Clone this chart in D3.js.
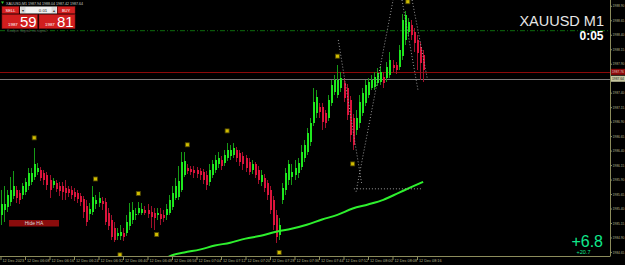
<!DOCTYPE html>
<html>
<head>
<meta charset="utf-8">
<script src="https://cdn.jsdelivr.net/npm/d3@7"></script>
<style>
body { margin: 0; background: #000; }
svg { display: block; font-family: Arial, "Liberation Sans", sans-serif; }
</style>
</head>
<body>
<svg id="chart" width="625" height="265"></svg>
<script>
// XAUUSD M1 heiken ashi, one row per minute from 06:00 : [open, high, low, close]
const candles = [
  [1985.29,1985.72,1985.12,1985.47],[1985.38,1985.78,1985.17,1985.48],[1985.43,1985.72,1985.34,1985.64],
  [1985.52,1985.95,1985.45,1985.72],[1985.62,1986.05,1985.57,1985.78],[1985.72,1985.78,1985.50,1985.59],
  [1985.67,1985.72,1985.47,1985.55],[1985.64,1985.84,1985.57,1985.78],[1985.69,1985.93,1985.64,1985.86],
  [1985.78,1986.10,1985.72,1986.02],[1985.86,1986.10,1985.81,1986.02],[1985.95,1986.45,1985.90,1986.16],
  [1986.03,1986.19,1985.98,1986.10],[1986.07,1986.12,1985.88,1985.93],[1986.02,1986.07,1985.81,1985.90],
  [1985.97,1986.03,1985.72,1985.81],[1985.90,1985.97,1985.59,1985.72],[1985.81,1985.93,1985.76,1985.88],
  [1985.84,1985.90,1985.69,1985.74],[1985.79,1985.86,1985.62,1985.71],[1985.78,1985.86,1985.55,1985.69],
  [1985.76,1985.90,1985.55,1985.67],[1985.74,1985.79,1985.60,1985.67],[1985.72,1985.78,1985.57,1985.64],
  [1985.69,1985.76,1985.53,1985.60],[1985.66,1985.72,1985.50,1985.57],[1985.62,1985.67,1985.45,1985.52],
  [1985.57,1985.62,1985.24,1985.34],[1985.45,1985.55,1985.10,1985.17],[1985.31,1985.50,1985.21,1985.40],
  [1985.34,1985.78,1985.28,1985.60],[1985.48,1985.64,1985.40,1985.55],[1985.50,1985.69,1985.43,1985.59],
  [1985.53,1985.60,1985.38,1985.47],[1985.52,1985.59,1985.12,1985.17],[1985.33,1985.41,1985.03,1985.09],
  [1985.21,1985.29,1984.86,1984.90],[1985.07,1985.17,1984.83,1984.86],[1984.93,1985.07,1984.86,1984.98],
  [1984.93,1985.12,1984.86,1985.00],[1984.98,1985.07,1984.84,1984.91],[1984.98,1985.29,1984.93,1985.17],
  [1985.09,1985.50,1985.03,1985.34],[1985.21,1985.52,1985.14,1985.38],[1985.28,1985.41,1985.21,1985.31],
  [1985.33,1985.52,1985.28,1985.41],[1985.33,1985.50,1985.28,1985.40],[1985.38,1985.45,1985.28,1985.33],
  [1985.38,1985.47,1985.24,1985.31],[1985.34,1985.45,1985.07,1985.26],[1985.33,1985.41,1985.03,1985.24],
  [1985.28,1985.41,1985.21,1985.33],[1985.31,1985.41,1985.12,1985.22],[1985.29,1985.38,1985.17,1985.24],
  [1985.28,1985.47,1985.21,1985.40],[1985.33,1985.64,1985.28,1985.55],[1985.43,1985.79,1985.38,1985.67],
  [1985.59,1985.93,1985.55,1985.78],[1985.60,1986.14,1985.55,1985.88],[1985.72,1986.38,1985.69,1986.21],
  [1985.98,1986.38,1985.95,1986.22],[1986.10,1986.16,1986.00,1986.05],[1986.09,1986.14,1985.98,1986.03],
  [1986.07,1986.14,1985.93,1986.02],[1986.07,1986.12,1985.93,1986.00],[1986.05,1986.10,1985.90,1985.97],
  [1986.03,1986.09,1985.83,1985.90],[1985.98,1986.05,1985.72,1985.81],[1985.86,1986.16,1985.79,1986.07],
  [1985.98,1986.24,1985.93,1986.16],[1986.07,1986.33,1986.02,1986.24],[1986.16,1986.38,1986.10,1986.28],
  [1986.24,1986.31,1986.07,1986.14],[1986.19,1986.41,1986.14,1986.33],[1986.28,1986.53,1986.22,1986.41],
  [1986.31,1986.50,1986.24,1986.41],[1986.33,1986.53,1986.28,1986.45],[1986.41,1986.47,1986.21,1986.28],
  [1986.36,1986.41,1986.14,1986.21],[1986.31,1986.38,1986.07,1986.16],[1986.28,1986.33,1986.03,1986.10],
  [1986.21,1986.28,1985.97,1986.03],[1986.07,1986.24,1986.00,1986.16],[1986.16,1986.21,1985.93,1985.98],
  [1986.07,1986.14,1985.83,1985.90],[1985.86,1986.07,1985.79,1985.98],[1985.93,1986.00,1985.69,1985.76],
  [1985.84,1985.90,1985.55,1985.64],[1985.72,1985.79,1985.31,1985.38],[1985.55,1985.62,1985.03,1985.12],
  [1985.29,1985.38,1984.81,1984.90],[1984.95,1985.24,1984.86,1985.12],[1985.55,1985.84,1985.47,1985.76],
  [1985.72,1986.10,1985.64,1986.02],[1985.90,1986.24,1985.81,1986.16],[1985.95,1986.16,1985.81,1986.03],
  [1985.98,1986.24,1985.90,1986.10],[1986.02,1986.28,1985.93,1986.19],[1986.12,1986.50,1986.07,1986.38],
  [1986.28,1986.59,1986.21,1986.50],[1986.38,1986.79,1986.33,1986.71],[1986.55,1986.97,1986.48,1986.88],
  [1986.88,1987.48,1986.83,1987.24],[1987.05,1987.45,1986.97,1987.33],[1987.16,1987.22,1986.97,1987.07],
  [1987.16,1987.22,1986.76,1986.90],[1987.05,1987.10,1986.79,1986.88],[1986.97,1987.36,1986.91,1987.28],
  [1987.22,1987.62,1987.17,1987.53],[1987.41,1987.71,1987.36,1987.62],[1987.36,1987.88,1987.31,1987.62],
  [1987.48,1987.76,1987.41,1987.66],[1987.57,1987.66,1987.24,1987.31],[1987.48,1987.55,1986.93,1987.02],
  [1987.28,1987.34,1986.55,1986.67],[1986.97,1987.03,1986.41,1986.50],[1986.76,1987.10,1986.67,1986.97],
  [1986.88,1987.36,1986.79,1987.24],[1987.05,1987.48,1987.00,1987.40],[1987.22,1987.62,1987.17,1987.53],
  [1987.36,1987.66,1987.31,1987.59],[1987.48,1987.71,1987.45,1987.62],[1987.50,1987.76,1987.45,1987.67],
  [1987.57,1987.83,1987.52,1987.74],[1987.59,1987.86,1987.53,1987.76],[1987.67,1987.76,1987.48,1987.57],
  [1987.66,1987.93,1987.59,1987.84],[1987.71,1988.10,1987.66,1987.97],[1987.88,1987.97,1987.76,1987.83],
  [1987.88,1987.93,1987.72,1987.79],[1987.84,1988.22,1987.79,1988.14],[1988.03,1988.76,1987.97,1988.66],
  [1988.31,1988.81,1988.22,1988.74],[1988.45,1988.69,1988.38,1988.62],[1988.57,1988.66,1988.31,1988.40],
  [1988.45,1988.52,1988.10,1988.26],[1988.31,1988.40,1987.79,1988.09],[1988.19,1988.28,1987.62,1987.91],
  [1988.05,1988.14,1987.59,1987.79]
];

// moving average (minute, value)
const maMinutes = [52, 55, 60, 65, 70, 75, 80, 85, 90, 95, 100, 105, 110, 115, 120, 125, 130, 135, 138];
const maValues = [1984.47, 1984.57, 1984.64, 1984.69, 1984.76, 1984.81, 1984.88, 1984.93, 1985.00, 1985.05,
  1985.12, 1985.21, 1985.29, 1985.40, 1985.47, 1985.55, 1985.67, 1985.79, 1985.86];

// fractal markers
const fractalMinutes = [11, 31, 39, 45, 51, 61, 74, 91, 110, 115, 133];
const fractalPrices = [1986.62, 1985.91, 1984.60, 1985.66, 1984.95, 1986.50, 1986.74, 1984.64, 1988.03, 1986.17, 1988.97];

// dotted trend lines drawn on the chart: [minute1, price1, minute2, price2]
const trendLines = [
  [110.3, 1988.31, 117.9, 1985.84],
  [116.1, 1985.69, 128.2, 1989.00],
  [131.1, 1989.00, 136.3, 1987.45],
  [134.4, 1989.00, 139.3, 1987.66],
  [115.4, 1985.74, 137.3, 1985.74]
];

const priceTicks = [1988.90, 1988.65, 1988.40, 1988.15, 1987.90, 1987.65, 1987.40, 1987.15, 1986.90, 1986.65,
  1986.40, 1986.15, 1985.90, 1985.65, 1985.40, 1985.15, 1984.90, 1984.65];
const timeTickMinutes = [0, 8, 16, 24, 32, 40, 48, 56, 64, 72, 80, 88, 96, 104, 112, 120, 128, 136];
const timeTickLabels = ["12 Dec 2023", "12 Dec 06:08", "12 Dec 06:16", "12 Dec 06:24", "12 Dec 06:32", "12 Dec 06:40",
  "12 Dec 06:48", "12 Dec 06:56", "12 Dec 07:04", "12 Dec 07:12", "12 Dec 07:20", "12 Dec 07:28", "12 Dec 07:36",
  "12 Dec 07:44", "12 Dec 07:52", "12 Dec 08:00", "12 Dec 08:08", "12 Dec 08:16"];

const askPrice = 1987.76;
const bidPrice = 1987.64;
const levelPrice = 1988.47;

const svg = d3.select("#chart");
const width = +svg.attr("width");
const height = +svg.attr("height");

// plot area ends at the price scale / time scale
const plotRight = 610;
const plotBottom = 256;

svg.append("rect").attr("width", width).attr("height", height).attr("fill", "#000");

const x = d3.scaleLinear().domain([0, 200]).range([0.5, 613]);
const y = d3.scaleLinear().domain([1989, 1984.58]).range([0, plotBottom]);

svg.append("clipPath").attr("id", "plot")
  .append("rect").attr("x", 0).attr("y", 0).attr("width", plotRight).attr("height", plotBottom);

const plot = svg.append("g").attr("clip-path", "url(#plot)");

// horizontal level (dash dot)
plot.append("line")
  .attr("x1", 0).attr("x2", plotRight)
  .attr("y1", y(levelPrice)).attr("y2", y(levelPrice))
  .attr("stroke", "#0d6a0d").attr("stroke-dasharray", "5,2,1,2");

// ask / bid lines
plot.append("line")
  .attr("x1", 0).attr("x2", plotRight)
  .attr("y1", Math.round(y(askPrice)) + 0.5).attr("y2", Math.round(y(askPrice)) + 0.5)
  .attr("stroke", "#8c0a0a");
plot.append("line")
  .attr("x1", 0).attr("x2", plotRight)
  .attr("y1", Math.round(y(bidPrice)) + 0.5).attr("y2", Math.round(y(bidPrice)) + 0.5)
  .attr("stroke", "#7a7a7a");

// candles
const candleG = plot.append("g").attr("shape-rendering", "crispEdges");
candles.forEach((c, i) => {
  const up = c[3] >= c[0];
  const cx = x(i);
  candleG.append("line")
    .attr("x1", Math.round(cx) + 0.5).attr("x2", Math.round(cx) + 0.5)
    .attr("y1", y(c[1])).attr("y2", y(c[2]))
    .attr("stroke", up ? "#169a16" : "#a0102c");
  candleG.append("rect")
    .attr("x", Math.round(cx) - 0.5)
    .attr("width", 2)
    .attr("y", y(Math.max(c[0], c[3])))
    .attr("height", Math.max(1, y(Math.min(c[0], c[3])) - y(Math.max(c[0], c[3]))))
    .attr("fill", up ? "#1ee81e" : "#dc143c");
});

// moving average
const maLine = d3.line()
  .x((d, i) => x(maMinutes[i]))
  .y(d => y(d))
  .curve(d3.curveMonotoneX);
plot.append("path")
  .attr("d", maLine(maValues))
  .attr("fill", "none")
  .attr("stroke", "#2ef02e")
  .attr("stroke-width", 2);

// dotted drawings
trendLines.forEach(l => {
  plot.append("line")
    .attr("x1", x(l[0])).attr("y1", y(l[1]))
    .attr("x2", x(l[2])).attr("y2", y(l[3]))
    .attr("stroke", "#9a9a9a")
    .attr("stroke-dasharray", "1,2");
});

// fractal markers
fractalMinutes.forEach((m, i) => {
  plot.append("rect")
    .attr("x", x(m) - 2).attr("y", y(fractalPrices[i]) - 2)
    .attr("width", 4).attr("height", 4)
    .attr("fill", "#d0bc00").attr("stroke", "#504800").attr("stroke-width", 0.8);
});

// price scale
const axisColor = "#8c8c5c";
const rightAxis = d3.axisRight(y)
  .tickValues(priceTicks)
  .tickSize(2)
  .tickPadding(0.5)
  .tickFormat(d3.format(".2f"));
const ra = svg.append("g")
  .attr("transform", "translate(" + plotRight + ",0)")
  .call(rightAxis);
ra.select(".domain").attr("stroke", axisColor).attr("d", "M0.5,0V" + plotBottom);
ra.selectAll(".tick line").attr("stroke", axisColor);
ra.selectAll(".tick text").attr("fill", "#b4b48c").attr("font-size", 3.3).attr("font-family", "Arial");

// time scale
const bottomAxis = d3.axisBottom(x)
  .tickValues(timeTickMinutes)
  .tickSize(4)
  .tickPadding(-2)
  .tickFormat((d, i) => timeTickLabels[i]);
const ba = svg.append("g")
  .attr("transform", "translate(0," + plotBottom + ")")
  .call(bottomAxis);
ba.select(".domain").attr("stroke", axisColor).attr("d", "M0,0.5H" + (plotRight + 0.5));
ba.selectAll(".tick line").attr("stroke", axisColor);
ba.selectAll(".tick text")
  .attr("fill", "#b4b48c").attr("font-size", 3.8).attr("font-family", "Arial")
  .attr("text-anchor", "start").attr("dx", 1.5).attr("dy", "1.1em");

// ask / bid labels on the price scale
const priceLabel = (p, bg, fg) => {
  const g = svg.append("g").attr("transform", "translate(" + plotRight + "," + y(p) + ")");
  g.append("rect").attr("x", 1).attr("y", -3).attr("width", 14).attr("height", 6).attr("fill", bg);
  g.append("text").attr("x", 2).attr("y", 1.3).attr("font-size", 3.3).attr("fill", fg).text(p.toFixed(2));
};
priceLabel(askPrice, "#8c0a0a", "#e0c0c0");
priceLabel(bidPrice, "#c8c8a0", "#202020");

// top-left symbol line
svg.append("path").attr("d", "M1,1.5L4,1.5L2.5,4Z").attr("fill", "#2ec82e");
svg.append("text").attr("x", 6).attr("y", 4.5).attr("font-size", 3.8).attr("fill", "#c8c8c8")
  .attr("textLength", 77).attr("lengthAdjust", "spacingAndGlyphs")
  .text("XAUUSD,M1  1987.94 1988.04 1987.42 1987.64");

// one click trading panel
const panel = svg.append("g");
panel.append("rect").attr("x", 2).attr("y", 6.5).attr("width", 17).attr("height", 7).attr("fill", "#d42020").attr("stroke", "#8a1010").attr("stroke-width", 0.5);
panel.append("text").attr("x", 10.5).attr("y", 11.6).attr("text-anchor", "middle").attr("font-size", 4).attr("fill", "#fff").text("SELL");
panel.append("rect").attr("x", 20).attr("y", 6.5).attr("width", 37).attr("height", 7).attr("fill", "#f0f0f0");
panel.append("rect").attr("x", 20.5).attr("y", 7).attr("width", 5).attr("height", 6).attr("fill", "#d8d8d8");
panel.append("rect").attr("x", 51.5).attr("y", 7).attr("width", 5).attr("height", 6).attr("fill", "#d8d8d8");
panel.append("text").attr("x", 23).attr("y", 11.5).attr("text-anchor", "middle").attr("font-size", 3.5).attr("fill", "#333").text("▼");
panel.append("text").attr("x", 54).attr("y", 11.5).attr("text-anchor", "middle").attr("font-size", 3.5).attr("fill", "#333").text("▲");
panel.append("text").attr("x", 43).attr("y", 11.8).attr("text-anchor", "middle").attr("font-size", 4.4).attr("fill", "#222").text("0.01");
panel.append("rect").attr("x", 57.5).attr("y", 6.5).attr("width", 17.5).attr("height", 7).attr("fill", "#d42020").attr("stroke", "#8a1010").attr("stroke-width", 0.5);
panel.append("text").attr("x", 66).attr("y", 11.6).attr("text-anchor", "middle").attr("font-size", 4).attr("fill", "#fff").text("BUY");

panel.append("rect").attr("x", 2).attr("y", 14.5).attr("width", 35.5).attr("height", 14).attr("fill", "#d21e1e").attr("stroke", "#8a1010").attr("stroke-width", 0.6);
panel.append("rect").attr("x", 39).attr("y", 14.5).attr("width", 36).attr("height", 14).attr("fill", "#d21e1e").attr("stroke", "#8a1010").attr("stroke-width", 0.6);
panel.append("text").attr("x", 8).attr("y", 25.5).attr("font-size", 4.4).attr("fill", "#fff").text("1987");
panel.append("text").attr("x", 20).attr("y", 27).attr("font-size", 15).attr("fill", "#fff").text("59");
panel.append("text").attr("x", 45).attr("y", 25.5).attr("font-size", 4.4).attr("fill", "#fff").text("1987");
panel.append("text").attr("x", 57).attr("y", 27).attr("font-size", 15).attr("fill", "#fff").text("81");
svg.append("text").attr("x", 7).attr("y", 31.5).attr("font-size", 3.6).attr("fill", "#505050").text("Scalper Signal: no signal");

// symbol / timer
svg.append("text").attr("x", 604).attr("y", 25.5).attr("text-anchor", "end")
  .attr("font-size", 14.5).attr("fill", "#e6e6e6").text("XAUUSD M1");
svg.append("text").attr("x", 603.5).attr("y", 39.5).attr("text-anchor", "end")
  .attr("font-size", 12).attr("font-weight", "bold").attr("fill", "#ffffff").text("0:05");

// profit
svg.append("text").attr("x", 603).attr("y", 246.5).attr("text-anchor", "end")
  .attr("font-size", 16).attr("fill", "#10e88c").text("+6.8");
svg.append("text").attr("x", 590.5).attr("y", 253.5).attr("text-anchor", "end")
  .attr("font-size", 5.5).attr("fill", "#10e88c").text("+20.7");

// Hide HA button
svg.append("rect").attr("x", 9).attr("y", 220).attr("width", 50).attr("height", 6.5).attr("fill", "#8a0c0c");
svg.append("text").attr("x", 34).attr("y", 225.2).attr("text-anchor", "middle")
  .attr("font-size", 5).attr("fill", "#d8d8d8").text("Hide HA");
</script>
</body>
</html>
